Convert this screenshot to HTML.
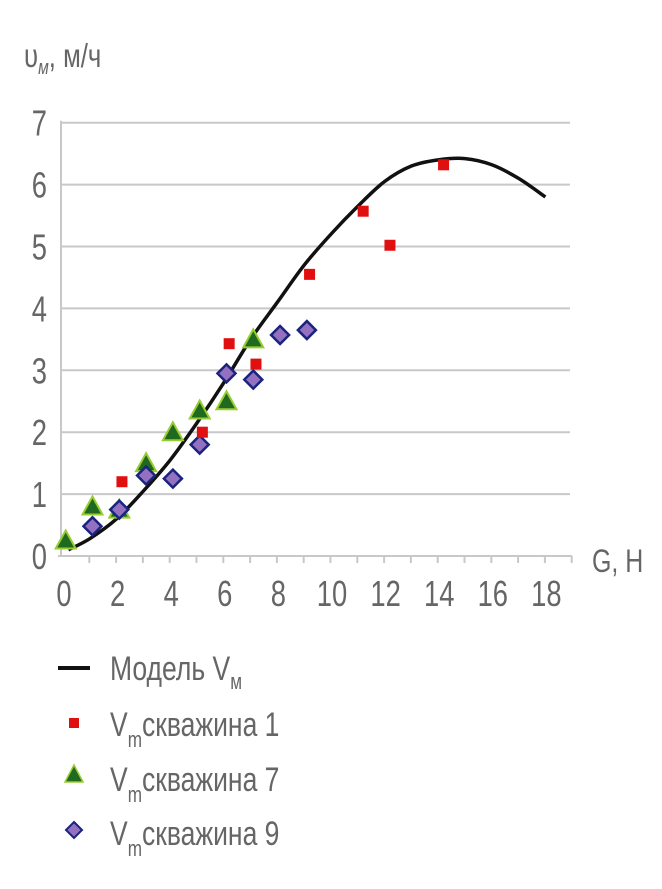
<!DOCTYPE html>
<html><head><meta charset="utf-8"><style>
html,body{margin:0;padding:0;background:#fff}
text{font-family:"Liberation Sans",sans-serif;fill:#666}
</style></head><body>
<svg id="chart" width="662" height="884" viewBox="0 0 662 884" xmlns="http://www.w3.org/2000/svg">
<g id="grid"></g>
<g id="axes"></g>
<g id="series"></g>
<g>
<text x="24" y="67" font-size="33" transform="translate(24 0) scale(0.78 1) translate(-24 0)">υ<tspan font-size="20" font-style="italic" dy="7">м</tspan><tspan dy="-7">, м/ч</tspan></text>
</g>
<text x="592" y="572" font-size="32" transform="translate(592 0) scale(0.78 1) translate(-592 0)">G, Н</text>
<g id="legend">
<g>
<line x1="58" y1="668" x2="90" y2="668" stroke="#111" stroke-width="4"/>
<text x="110" y="680" font-size="34" transform="translate(110 0) scale(0.78 1) translate(-110 0)">Модель V<tspan font-size="22" dy="9">м</tspan></text>
</g>
<g>
<rect x="69" y="718" width="10" height="10" fill="#e01010"/>
<text x="110" y="736" font-size="34" transform="translate(110 0) scale(0.78 1) translate(-110 0)">V<tspan font-size="22" dy="11">m</tspan><tspan dy="-11">скважина 1</tspan></text>
</g>
<g>
<polygon points="74,765 83,782 65,782" fill="#1f6a1f" stroke="#9c3" stroke-width="1.5"/>
<text x="110" y="791" font-size="34" transform="translate(110 0) scale(0.78 1) translate(-110 0)">V<tspan font-size="22" dy="11">m</tspan><tspan dy="-11">скважина 7</tspan></text>
</g>
<g>
<polygon points="74,822 82,830 74,838 66,830" fill="#9370c0" stroke="#1a237e" stroke-width="2"/>
<text x="110" y="845" font-size="34" transform="translate(110 0) scale(0.78 1) translate(-110 0)">V<tspan font-size="22" dy="11">m</tspan><tspan dy="-11">скважина 9</tspan></text>
</g>
</g>
</svg>
<script>
const yTicks = [0,1,2,3,4,5,6,7];
const xTicks = [0,2,4,6,8,10,12,14,16,18];
const modelX = [0.2,1,2,3,4,5,6,7,8,9,10,11,12,13,14,15,16,17,18];
const modelY = [0.1,0.28,0.6,1.05,1.55,2.15,2.8,3.5,4.1,4.7,5.2,5.65,6.05,6.3,6.4,6.42,6.32,6.1,5.8];
const well1X = [2.2,5.2,6.2,7.2,9.2,11.2,12.2,14.2];
const well1Y = [1.2,2.0,3.43,3.1,4.55,5.57,5.02,6.32];
const well7X = [0.1,1.1,2.1,3.1,4.1,5.1,6.1,7.1];
const well7Y = [0.25,0.8,0.75,1.5,2.0,2.35,2.5,3.5];
const well9X = [1.1,2.1,3.1,4.1,5.1,6.1,7.1,8.1,9.1];
const well9Y = [0.48,0.75,1.3,1.25,1.8,2.95,2.85,3.57,3.65];

const NS='http://www.w3.org/2000/svg';
const X0=63, XS=26.8, Y0=556, YS=61.9;
function X(v){return X0+v*XS;}
function Y(v){return Y0-v*YS;}
function mk(t,a,p){const e=document.createElementNS(NS,t);for(const k in a)e.setAttribute(k,a[k]);p.appendChild(e);return e;}
const grid=document.getElementById('grid'), axes=document.getElementById('axes'), ser=document.getElementById('series');
yTicks.forEach(v=>{
  if(v>0){const l=mk('line',{x1:60,x2:570,y1:Y(v),y2:Y(v),stroke:'#c8c8c8','stroke-width':2},grid);
  
  }
  const t=mk('text',{x:47,y:Y(v)+13,'font-size':36,'text-anchor':'end',transform:`translate(47 0) scale(0.76 1) translate(-47 0)`},axes);
  t.textContent=v;
  
  
});
const xa=mk('line',{x1:58,x2:572,y1:Y0,y2:Y0,stroke:'#c8c8c8','stroke-width':2},axes);


const ya=mk('line',{x1:61,x2:61,y1:Y(7)-2,y2:Y0,stroke:'#c8c8c8','stroke-width':2},axes);


for(let i=1;i<=19;i++){
  const tk=mk('line',{x1:X(i)-0.5,x2:X(i)-0.5,y1:Y0,y2:Y0+7,stroke:'#c8c8c8','stroke-width':2},axes);
  
  
}
xTicks.forEach(v=>{
  const t=mk('text',{x:X(v)+1,y:606,'font-size':36,'text-anchor':'middle',transform:`translate(${X(v)+1} 0) scale(0.76 1) translate(${-X(v)-1} 0)`},axes);
  t.textContent=v;
  
  
});
const pts=modelX.map((x,i)=>[X(x),Y(modelY[i])]);
let d='M'+pts[0][0]+','+pts[0][1];
for(let i=0;i<pts.length-1;i++){
  const p0=pts[i-1]||pts[i],p1=pts[i],p2=pts[i+1],p3=pts[i+2]||p2;
  d+=` C${p1[0]+(p2[0]-p0[0])/6},${p1[1]+(p2[1]-p0[1])/6} ${p2[0]-(p3[0]-p1[0])/6},${p2[1]-(p3[1]-p1[1])/6} ${p2[0]},${p2[1]}`;
}
const path=mk('path',{d:d,fill:'none',stroke:'#111','stroke-width':3.5},ser);


well7X.forEach((x,i)=>{
  const cx=X(x),cy=Y(well7Y[i]);
  const p=mk('polygon',{points:`${cx},${cy-10} ${cx+10},${cy+8} ${cx-10},${cy+8}`,fill:'#1f6a1f',stroke:'#9c3','stroke-width':2},ser);
  
  
});
well9X.forEach((x,i)=>{
  const cx=X(x),cy=Y(well9Y[i]);
  const p=mk('polygon',{points:`${cx},${cy-9} ${cx+9},${cy} ${cx},${cy+9} ${cx-9},${cy}`,fill:'#9370c0',stroke:'#1a237e','stroke-width':2.5},ser);
  
  
});
well1X.forEach((x,i)=>{
  const r=mk('rect',{x:X(x)-5.5,y:Y(well1Y[i])-5.5,width:11,height:11,fill:'#e01010'},ser);
  
  
});
</script>
</body></html>
